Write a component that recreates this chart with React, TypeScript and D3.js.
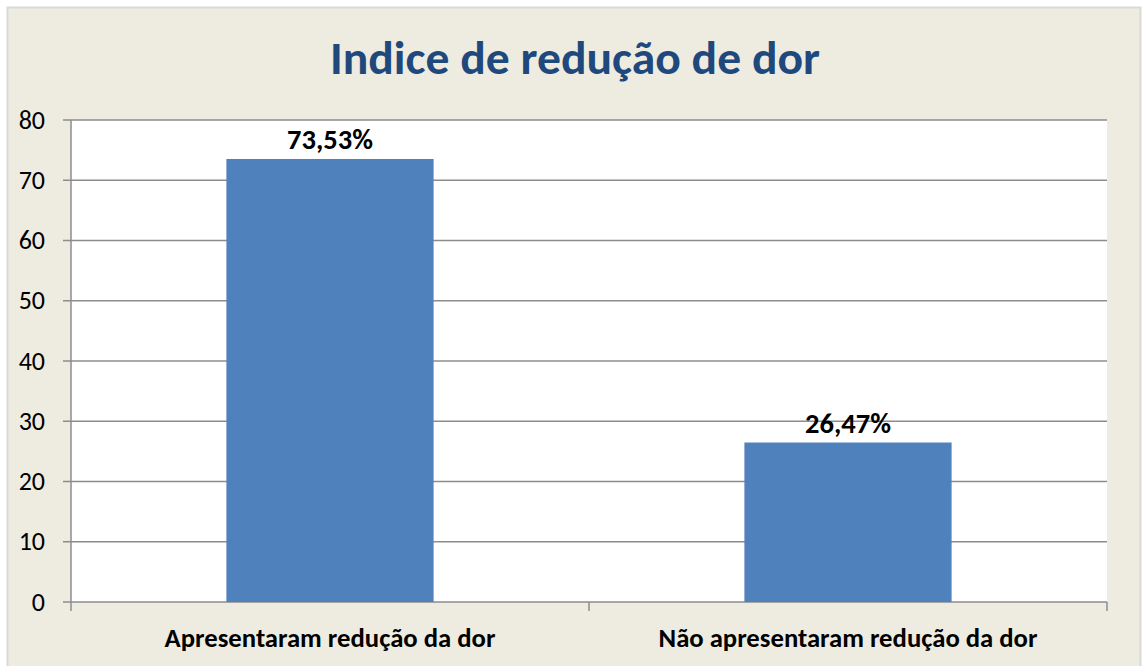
import React from "react";
import * as d3 from "d3";

const categories = ["Apresentaram redução da dor", "Não apresentaram redução da dor"];
const values = [73.53, 26.47];
const valueLabels = ["73,53%", "26,47%"];
const yTicks = [0, 10, 20, 30, 40, 50, 60, 70, 80];
const title = "Indice de redução de dor";

const W = 1144;
const H = 666;
const left = 71;
const right = 1107;
const top = 120;
const bottom = 602;
const FONT = "Carlito, Calibri, 'Open Sans', 'Liberation Sans', sans-serif";

export default function App() {
  const x = d3.scaleBand<string>().domain(categories).range([left, right]).paddingInner(0.6).paddingOuter(0.3);
  const band = d3.scaleBand<string>().domain(categories).range([left, right]);
  const y = d3.scaleLinear().domain([0, 80]).range([bottom, top]);
  const gridColor = "#8c8c8c";
  const boundaries = [left, ...categories.map((c) => (band(c) as number) + band.bandwidth())];

  return (
    <svg width={W} height={H} style={{ position: "absolute", left: 0, top: 0 }} fontFamily={FONT}>
      <rect x={0} y={0} width={W} height={H} fill="#ffffff" />
      <rect x={7.5} y={7.5} width={1133} height={670} fill="#EEECE1" stroke="#d9d9d9" strokeWidth={2} />
      <rect x={left} y={top} width={right - left} height={bottom - top} fill="#ffffff" />
      <text x={575} y={74} textAnchor="middle" fontSize={46} fontWeight="bold" fill="#1F497D" textLength={490} lengthAdjust="spacingAndGlyphs">
        {title}
      </text>
      {yTicks.map((t) => (
        <g key={t}>
          <line x1={left - 8} x2={right} y1={y(t)} y2={y(t)} stroke={gridColor} strokeWidth={1.5} />
          <text x={45} y={y(t) + 8.5} textAnchor="end" fontSize={26} fill="#000">
            {t}
          </text>
        </g>
      ))}
      <line x1={left} x2={left} y1={top} y2={bottom} stroke={gridColor} strokeWidth={1.5} />
      {boundaries.map((b, i) => (
        <line key={i} x1={b} x2={b} y1={bottom} y2={bottom + 9} stroke={gridColor} strokeWidth={1.5} />
      ))}
      {categories.map((c, i) => {
        const bx = x(c) as number;
        return (
          <g key={c}>
            <rect x={bx} y={y(values[i])} width={x.bandwidth()} height={bottom - y(values[i])} fill="#4F81BD" />
            <text x={bx + x.bandwidth() / 2} y={y(values[i]) - 10} textAnchor="middle" fontSize={28.5} fontWeight="bold" fill="#000">
              {valueLabels[i]}
            </text>
            <text x={(band(c) as number) + band.bandwidth() / 2} y={647} textAnchor="middle" fontSize={26.7} fontWeight="bold" fill="#000">
              {c}
            </text>
          </g>
        );
      })}
    </svg>
  );
}
